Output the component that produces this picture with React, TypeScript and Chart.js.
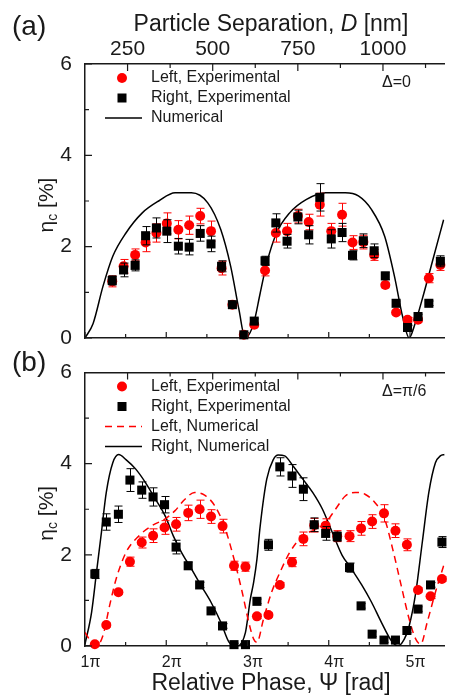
import React, { useEffect, useRef } from "react";
import { Chart, registerables } from "chart.js";

Chart.register(...registerables);

const FONT = '"Liberation Sans", Arial, Helvetica, sans-serif';
const INK = "#1a1a1a";
const RED = "#ff0000";
const W = 451;

// ---------- axes ----------
const PHASE_MIN = 1;
const PHASE_MAX = 5.426; // in units of pi
const SEP_MIN = 125; // nm at phase = 1 pi
const SEP_MAX = 1181; // nm at right edge
const ETA_MIN = 0;
const ETA_MAX = 6;

const phaseMajorTicks = [1, 2, 3, 4, 5];
const phaseMinorTicks = [1.5, 2.5, 3.5, 4.5];
const sepMajorTicks = [250, 500, 750, 1000];
const sepMinorTicks = [375, 625, 875, 1125];
const etaMajorTicks = [0, 2, 4, 6];
const etaMinorTicks = [1, 3, 5];

// ---------- panel (a): Delta = 0 ----------
const phaseExpA = [1.335, 1.475, 1.617, 1.746, 1.879, 2.007, 2.149, 2.282, 2.418, 2.551, 2.681, 2.814, 2.955, 3.083, 3.216, 3.349, 3.487, 3.62, 3.753, 3.89, 4.031, 4.164, 4.293, 4.426, 4.559, 4.696, 4.829, 4.97, 5.099, 5.232, 5.374];
const leftExpA = [1.24, 1.57, 1.82, 2.09, 2.3, 2.51, 2.37, 2.47, 2.67, 2.34, 1.53, 0.73, 0.07, 0.29, 1.48, 2.3, 2.34, 2.67, 2.54, 2.92, 2.34, 2.7, 2.09, 2.1, 1.82, 1.16, 0.56, 0.4, 0.4, 1.31, 1.6];
const leftErrA = [0.12, 0.15, 0.13, 0.2, 0.2, 0.23, 0.2, 0.2, 0.17, 0.22, 0.15, 0.05, 0.05, 0.05, 0.12, 0.2, 0.17, 0.15, 0.17, 0.25, 0.17, 0.25, 0.15, 0.15, 0.12, 0.06, 0.05, 0.05, 0.05, 0.1, 0.12];
const rightExpA = [1.26, 1.49, 1.59, 2.24, 2.41, 2.34, 2.01, 1.99, 2.29, 2.06, 1.57, 0.73, 0.07, 0.37, 1.69, 2.52, 2.12, 2.65, 2.26, 3.08, 2.17, 2.31, 1.81, 2.13, 1.91, 1.36, 0.76, 0.23, 0.47, 0.76, 1.68];
const rightErrA = [0.1, 0.15, 0.12, 0.2, 0.22, 0.25, 0.17, 0.17, 0.17, 0.17, 0.12, 0.05, 0.05, 0.05, 0.1, 0.2, 0.15, 0.15, 0.2, 0.3, 0.2, 0.2, 0.1, 0.15, 0.15, 0.08, 0.05, 0.05, 0.05, 0.05, 0.12];
const phaseNumA = [1.0, 1.1, 1.221, 1.342, 1.504, 1.705, 1.907, 2.109, 2.31, 2.511, 2.672, 2.793, 2.895, 2.971, 3.076, 3.156, 3.237, 3.358, 3.519, 3.721, 3.963, 4.204, 4.365, 4.527, 4.688, 4.809, 4.909, 4.99, 5.051, 5.171, 5.293, 5.414];
const numA = [0.0, 0.32, 1.13, 1.79, 2.3, 2.74, 3.0, 3.18, 3.18, 2.96, 2.37, 1.57, 0.62, 0.0, 0.32, 0.98, 1.64, 2.3, 2.74, 3.03, 3.18, 3.18, 3.11, 2.81, 2.23, 1.35, 0.47, 0.0, 0.25, 0.98, 1.79, 2.59];

// ---------- panel (b): Delta = pi/6 ----------
const phaseExpB = [1.121, 1.262, 1.411, 1.553, 1.698, 1.838, 1.979, 2.121, 2.27, 2.411, 2.551, 2.693, 2.834, 2.975, 3.116, 3.258, 3.398, 3.548, 3.688, 3.821, 3.962, 4.104, 4.256, 4.398, 4.534, 4.68, 4.821, 4.962, 5.099, 5.253, 5.393];
const leftExpB = [0.04, 0.46, 1.18, 1.85, 2.27, 2.42, 2.6, 2.67, 2.92, 3.0, 2.84, 2.63, 1.76, 1.74, 0.65, 0.68, 1.34, 1.84, 2.35, 2.65, 2.64, 2.41, 2.41, 2.58, 2.73, 2.91, 2.53, 2.22, 1.23, 1.09, 1.47];
const leftErrB = [0.03, 0.05, 0.05, 0.1, 0.12, 0.15, 0.15, 0.15, 0.17, 0.2, 0.15, 0.15, 0.1, 0.1, 0.05, 0.05, 0.05, 0.1, 0.15, 0.15, 0.15, 0.12, 0.12, 0.15, 0.15, 0.19, 0.15, 0.13, 0.05, 0.05, 0.05];
const rightExpB = [1.58, 2.72, 2.89, 3.64, 3.42, 3.27, 3.1, 2.17, 1.76, 1.34, 0.77, 0.44, 0.03, 0.03, 0.98, 2.22, 3.93, 3.73, 3.44, 2.66, 2.47, 2.4, 1.72, 0.88, 0.26, 0.13, 0.13, 0.34, 0.81, 1.34, 2.28];
const rightErrB = [0.1, 0.18, 0.18, 0.25, 0.18, 0.2, 0.18, 0.15, 0.08, 0.06, 0.05, 0.05, 0.03, 0.03, 0.05, 0.12, 0.2, 0.25, 0.25, 0.15, 0.15, 0.1, 0.1, 0.05, 0.05, 0.05, 0.05, 0.05, 0.05, 0.05, 0.12];
const phaseNumBLeft = [1.0, 1.081, 1.141, 1.221, 1.302, 1.383, 1.504, 1.665, 1.826, 1.988, 2.109, 2.23, 2.351, 2.472, 2.592, 2.713, 2.834, 2.935, 3.016, 3.076, 3.116, 3.197, 3.297, 3.398, 3.519, 3.681, 3.842, 3.963, 4.083, 4.204, 4.325, 4.446, 4.567, 4.688, 4.788, 4.89, 4.99, 5.071, 5.132, 5.212, 5.313, 5.414];
const numBLeft = [0.3, 0.08, 0.0, 0.23, 0.88, 1.47, 2.05, 2.42, 2.64, 2.79, 2.97, 3.22, 3.37, 3.31, 3.09, 2.64, 1.91, 1.18, 0.52, 0.15, 0.08, 0.59, 1.18, 1.61, 2.05, 2.42, 2.56, 2.71, 3.0, 3.29, 3.37, 3.33, 3.15, 2.79, 2.12, 1.34, 0.59, 0.15, 0.04, 0.52, 1.18, 1.76];
const phaseNumBRight = [1.0, 1.081, 1.141, 1.202, 1.262, 1.342, 1.415, 1.504, 1.625, 1.746, 1.867, 1.988, 2.088, 2.189, 2.31, 2.43, 2.551, 2.672, 2.774, 2.874, 2.975, 3.035, 3.076, 3.116, 3.156, 3.237, 3.318, 3.378, 3.458, 3.56, 3.681, 3.802, 3.923, 4.044, 4.165, 4.265, 4.406, 4.527, 4.648, 4.769, 4.849, 4.93, 4.99, 5.071, 5.151, 5.232, 5.313, 5.374, 5.426];
const numBRight = [0.04, 0.74, 1.61, 2.49, 3.37, 4.02, 4.2, 4.09, 3.88, 3.58, 3.22, 2.85, 2.41, 2.05, 1.69, 1.32, 0.96, 0.52, 0.08, 0.0, 0.3, 1.03, 1.4, 1.9, 2.63, 3.66, 4.09, 4.19, 4.17, 3.95, 3.66, 3.37, 3.0, 2.49, 1.99, 1.73, 1.34, 0.96, 0.52, 0.12, 0.0, 0.15, 0.44, 1.17, 2.27, 3.37, 4.02, 4.17, 4.2];

// ---------- text ----------
const sepTitle = ["Particle Separation, ", "D", " [nm]"];
const phaseTitle = "Relative Phase, \u03A8 [rad]";
const etaTitle = ["\u03B7", "c", " [%]"];

const pts = (xs: number[], ys: number[]) => xs.map((x, i) => ({ x, y: ys[i] }));

function expSet(label: string, xs: number[], ys: number[], errs: number[], kind: "circle" | "square") {
  const color = kind === "circle" ? RED : "#000000";
  return {
    label,
    data: pts(xs, ys),
    showLine: false,
    pointStyle: kind === "circle" ? "circle" : "rect",
    pointRadius: kind === "circle" ? 5 : 6.4,
    pointHoverRadius: kind === "circle" ? 5 : 6.4,
    pointBackgroundColor: color,
    pointBorderColor: color,
    pointBorderWidth: 0,
    backgroundColor: color,
    borderColor: color,
    clip: false,
    order: kind === "circle" ? 2 : 1,
    xAxisID: "x",
    yAxisID: "y",
    errors: errs,
    errorColor: color,
    legendKind: kind,
  };
}

function lineSet(label: string, xs: number[], ys: number[], color: string, dashed: boolean) {
  return {
    label,
    data: pts(xs, ys),
    showLine: true,
    pointRadius: 0,
    pointHoverRadius: 0,
    borderColor: color,
    backgroundColor: color,
    borderWidth: 1.5,
    borderDash: dashed ? [7, 5] : [],
    cubicInterpolationMode: "monotone",
    fill: false,
    order: 3,
    xAxisID: "x",
    yAxisID: "y",
    legendKind: dashed ? "dash" : "line",
  };
}

type Panel = {
  tag: string;
  tagBaseline: number;
  delta: string;
  top: number;
  height: number;
  topBox: number;
  bottomBox: number;
  sepLabels: boolean;
  phaseLabels: boolean;
  datasets: any[];
};

const panels: Panel[] = [
  {
    tag: "(a)",
    tagBaseline: 35,
    delta: "\u0394=0",
    top: 0,
    height: 360,
    topBox: 64,
    bottomBox: 22,
    sepLabels: true,
    phaseLabels: false,
    datasets: [
      expSet("Left, Experimental", phaseExpA, leftExpA, leftErrA, "circle"),
      expSet("Right, Experimental", phaseExpA, rightExpA, rightErrA, "square"),
      lineSet("Numerical", phaseNumA, numA, "#000000", false),
    ],
  },
  {
    tag: "(b)",
    tagBaseline: 26,
    delta: "\u0394=\u03C0/6",
    top: 345,
    height: 353,
    topBox: 27.5,
    bottomBox: 52,
    sepLabels: false,
    phaseLabels: true,
    datasets: [
      expSet("Left, Experimental", phaseExpB, leftExpB, leftErrB, "circle"),
      expSet("Right, Experimental", phaseExpB, rightExpB, rightErrB, "square"),
      lineSet("Left, Numerical", phaseNumBLeft, numBLeft, RED, true),
      lineSet("Right, Numerical", phaseNumBRight, numBRight, "#000000", false),
    ],
  },
];

function makeDecor(panel: Panel) {
  return {
    id: "decor",
    beforeDatasetDraw(chart: any, args: any) {
      const ds: any = chart.data.datasets[args.index];
      if (!ds.errors) return;
      const ctx = chart.ctx;
      const ys = chart.scales.y;
      ctx.save();
      ctx.strokeStyle = ds.errorColor;
      ctx.lineWidth = 1;
      ctx.beginPath();
      args.meta.data.forEach((el: any, i: number) => {
        const v = ds.data[i].y;
        const e = ds.errors[i];
        const x = Math.round(el.x) + 0.5;
        const y1 = ys.getPixelForValue(v + e);
        const y2 = ys.getPixelForValue(v - e);
        ctx.moveTo(x, y1);
        ctx.lineTo(x, y2);
        ctx.moveTo(x - 4, y1);
        ctx.lineTo(x + 4, y1);
        ctx.moveTo(x - 4, y2);
        ctx.lineTo(x + 4, y2);
      });
      ctx.stroke();
      ctx.restore();
    },
    afterDraw(chart: any) {
      const ctx = chart.ctx;
      const a = chart.chartArea;
      const xs = chart.scales.x;
      const xt = chart.scales.xTop;
      const ys = chart.scales.y;
      ctx.save();
      // inward tick marks
      ctx.strokeStyle = INK;
      ctx.lineWidth = 1.2;
      ctx.beginPath();
      const vt = (px: number, y0: number, dir: number, len: number) => {
        ctx.moveTo(px, y0);
        ctx.lineTo(px, y0 + dir * len);
      };
      const ht = (py: number, len: number) => {
        ctx.moveTo(a.left, py);
        ctx.lineTo(a.left + len, py);
      };
      phaseMajorTicks.forEach((v) => vt(xs.getPixelForValue(v), a.bottom, -1, 6));
      phaseMinorTicks.forEach((v) => vt(xs.getPixelForValue(v), a.bottom, -1, 4));
      sepMajorTicks.forEach((v) => vt(xt.getPixelForValue(v), a.top, 1, 7));
      sepMinorTicks.forEach((v) => vt(xt.getPixelForValue(v), a.top, 1, 4));
      etaMajorTicks.forEach((v) => ht(ys.getPixelForValue(v), 7));
      etaMinorTicks.forEach((v) => ht(ys.getPixelForValue(v), 4));
      ctx.stroke();

      ctx.fillStyle = INK;
      ctx.textAlign = "left";
      ctx.textBaseline = "alphabetic";

      // panel tag
      ctx.font = `28px ${FONT}`;
      ctx.fillText(panel.tag, 12, panel.tagBaseline);

      // y title, rotated, with subscript
      const cy = (a.top + a.bottom) / 2 + 4;
      ctx.save();
      ctx.translate(53, cy);
      ctx.rotate(-Math.PI / 2);
      ctx.font = `21px ${FONT}`;
      const w0 = ctx.measureText(etaTitle[0]).width;
      const w2 = ctx.measureText(etaTitle[2]).width;
      ctx.font = `14px ${FONT}`;
      const w1 = ctx.measureText(etaTitle[1]).width;
      let sx = -(w0 + w1 + w2) / 2;
      ctx.font = `21px ${FONT}`;
      ctx.fillText(etaTitle[0], sx, 0);
      sx += w0;
      ctx.font = `14px ${FONT}`;
      ctx.fillText(etaTitle[1], sx, 4);
      sx += w1;
      ctx.font = `21px ${FONT}`;
      ctx.fillText(etaTitle[2], sx, 0);
      ctx.restore();

      // top axis labels and title
      if (panel.sepLabels) {
        ctx.font = `21px ${FONT}`;
        ctx.textAlign = "center";
        sepMajorTicks.forEach((v) => {
          ctx.fillText(String(v), xt.getPixelForValue(v), a.top - 9.5);
        });
        ctx.textAlign = "left";
        ctx.font = `23px ${FONT}`;
        const p0 = ctx.measureText(sepTitle[0]).width;
        const p2 = ctx.measureText(sepTitle[2]).width;
        ctx.font = `italic 23px ${FONT}`;
        const p1 = ctx.measureText(sepTitle[1]).width;
        let tx = 271 - (p0 + p1 + p2) / 2;
        ctx.font = `23px ${FONT}`;
        ctx.fillText(sepTitle[0], tx, 31);
        tx += p0;
        ctx.font = `italic 23px ${FONT}`;
        ctx.fillText(sepTitle[1], tx, 31);
        tx += p1;
        ctx.font = `23px ${FONT}`;
        ctx.fillText(sepTitle[2], tx, 31);
      }

      // bottom tick labels and title
      if (panel.phaseLabels) {
        ctx.font = `16px ${FONT}`;
        phaseMajorTicks.forEach((v) => {
          const x = xs.getPixelForValue(v);
          const s = String(v);
          const w = ctx.measureText(s).width;
          ctx.fillText(s, x - w / 2, a.bottom + 21);
          ctx.fillText("\u03C0", x + w / 2, a.bottom + 21);
        });
        ctx.font = `23px ${FONT}`;
        ctx.textAlign = "center";
        ctx.fillText(phaseTitle, 271, a.bottom + 44);
        ctx.textAlign = "left";
      }

      // delta label
      ctx.font = `16px ${FONT}`;
      ctx.textBaseline = "middle";
      ctx.fillText(panel.delta, a.left + 297, a.top + 19);

      // legend
      chart.data.datasets.forEach((ds: any, i: number) => {
        const ry = a.top + 14 + 20 * i;
        const mx = a.left + 37;
        ctx.fillStyle = ds.borderColor;
        ctx.strokeStyle = ds.borderColor;
        if (ds.legendKind === "circle") {
          ctx.beginPath();
          ctx.arc(mx, ry, 5, 0, Math.PI * 2);
          ctx.fill();
        } else if (ds.legendKind === "square") {
          ctx.fillRect(mx - 4.5, ry - 4.5, 9, 9);
        } else {
          ctx.lineWidth = 1.5;
          ctx.setLineDash(ds.legendKind === "dash" ? [7, 5] : []);
          ctx.beginPath();
          ctx.moveTo(a.left + 20, ry);
          ctx.lineTo(a.left + 57, ry);
          ctx.stroke();
          ctx.setLineDash([]);
        }
        ctx.fillStyle = INK;
        ctx.font = `16px ${FONT}`;
        ctx.fillText(ds.label, a.left + 66, ry);
      });
      ctx.restore();
    },
  };
}

function buildConfig(panel: Panel): any {
  const border = { display: true, color: INK, width: 1.5 };
  return {
    type: "line",
    data: { datasets: panel.datasets },
    plugins: [makeDecor(panel)],
    options: {
      responsive: false,
      animation: false,
      devicePixelRatio: 1,
      events: [],
      layout: { padding: 0 },
      plugins: { legend: { display: false }, tooltip: { enabled: false }, title: { display: false } },
      scales: {
        x: {
          type: "linear",
          position: "bottom",
          min: PHASE_MIN,
          max: PHASE_MAX,
          grid: { display: false },
          border,
          ticks: { display: false },
          afterFit: (s: any) => {
            s.height = panel.bottomBox;
            s.paddingLeft = 0;
            s.paddingRight = 0;
          },
        },
        xTop: {
          type: "linear",
          position: "top",
          min: SEP_MIN,
          max: SEP_MAX,
          grid: { display: false },
          border,
          ticks: { display: false },
          afterFit: (s: any) => {
            s.height = panel.topBox;
            s.paddingLeft = 0;
            s.paddingRight = 0;
          },
        },
        y: {
          type: "linear",
          position: "left",
          min: ETA_MIN,
          max: ETA_MAX,
          grid: { display: false },
          border,
          ticks: {
            font: { family: FONT, size: 21 },
            color: INK,
            padding: 5,
            autoSkip: false,
            callback: (v: number) => String(v),
          },
          afterBuildTicks: (s: any) => {
            s.ticks = etaMajorTicks.map((v) => ({ value: v }));
          },
          afterFit: (s: any) => {
            s.width = 85;
            s.paddingTop = 0;
            s.paddingBottom = 0;
          },
        },
      },
    },
  };
}

function PanelChart({ panel }: { panel: Panel }) {
  const ref = useRef<HTMLCanvasElement | null>(null);
  useEffect(() => {
    if (!ref.current) return;
    const chart = new Chart(ref.current, buildConfig(panel));
    return () => chart.destroy();
  }, [panel]);
  return (
    <canvas
      ref={ref}
      width={W}
      height={panel.height}
      style={{ position: "absolute", left: 0, top: panel.top, width: W, height: panel.height }}
    />
  );
}

export default function App() {
  return (
    <div style={{ position: "absolute", left: 0, top: 0, width: W, height: 698, overflow: "hidden", background: "#ffffff" }}>
      {panels.map((p) => (
        <PanelChart key={p.tag} panel={p} />
      ))}
    </div>
  );
}
